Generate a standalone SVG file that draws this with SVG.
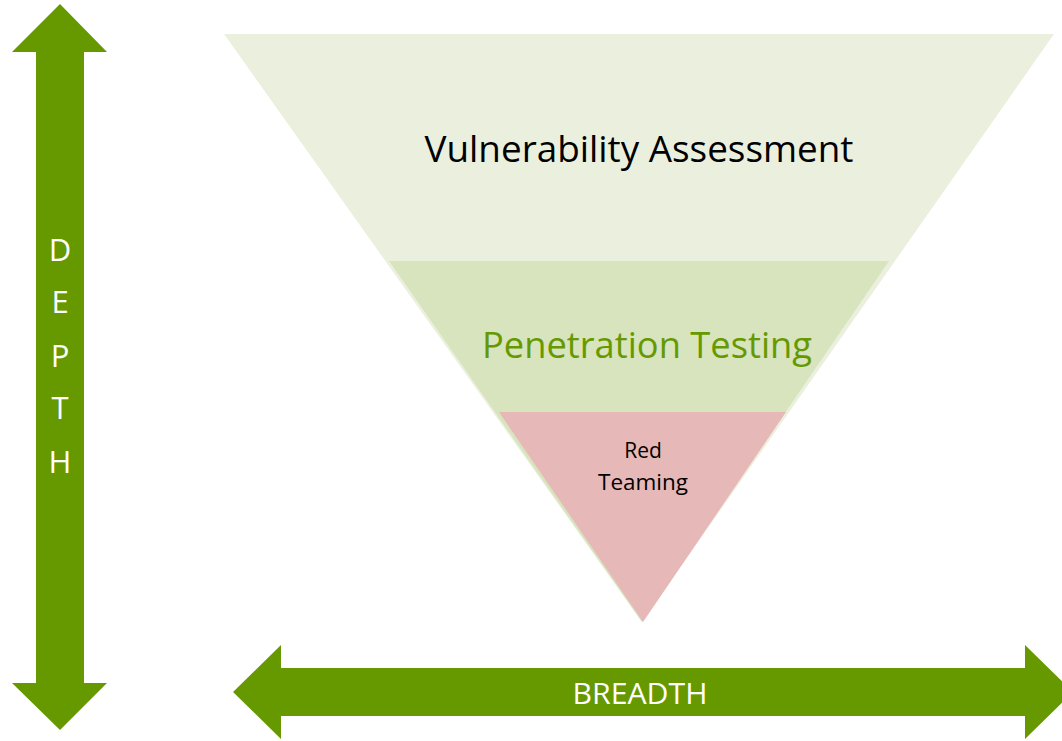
<svg xmlns="http://www.w3.org/2000/svg" width="1062" height="741" viewBox="0 0 1062 741">
<style>
.arrow{fill:#669900}
.lbl{font-family:"Open Sans","Liberation Sans",sans-serif}
.w{fill:#ffffff}
</style>
<rect width="1062" height="741" fill="#ffffff"/>
<g id="va">
<polygon points="224,34 1054,34 642,622" fill="#EBF0DE"/>
<text class="lbl" x="639" y="162" font-size="37" text-anchor="middle" fill="#000000" textLength="429" lengthAdjust="spacingAndGlyphs">Vulnerability Assessment</text>
</g>
<g id="pt">
<polygon points="389,261 889,261 642,622" fill="#D7E4BD"/>
<text class="lbl" x="647" y="358" font-size="37" text-anchor="middle" fill="#669900" textLength="330" lengthAdjust="spacingAndGlyphs">Penetration Testing</text>
</g>
<g id="rt">
<polygon points="499,412 786,412 643,622" fill="#E6B8B7"/>
<text class="lbl" x="643" y="458" font-size="21" text-anchor="middle" fill="#000000">Red</text>
<text class="lbl" x="643" y="490" font-size="21" text-anchor="middle" fill="#000000" textLength="90" lengthAdjust="spacingAndGlyphs">Teaming</text>
</g>
<g id="depth">
<polygon class="arrow" points="60,4 107,52 84,52 84,683 107,683 60,730 12,683 36,683 36,52 12,52"/>
<g class="lbl w" font-size="31" text-anchor="middle">
<text x="60" y="261">D</text>
<text x="60" y="313">E</text>
<text x="60" y="367">P</text>
<text x="60" y="419">T</text>
<text x="60" y="473">H</text>
</g>
</g>
<g id="breadth">
<polygon class="arrow" points="233,692 281,645 281,668 1025,668 1025,645 1073,692 1025,739 1025,716 281,716 281,739"/>
<text class="lbl w" x="640" y="704" font-size="29" text-anchor="middle" textLength="135" lengthAdjust="spacingAndGlyphs">BREADTH</text>
</g>
<g id="connectors"></g>
</svg>
